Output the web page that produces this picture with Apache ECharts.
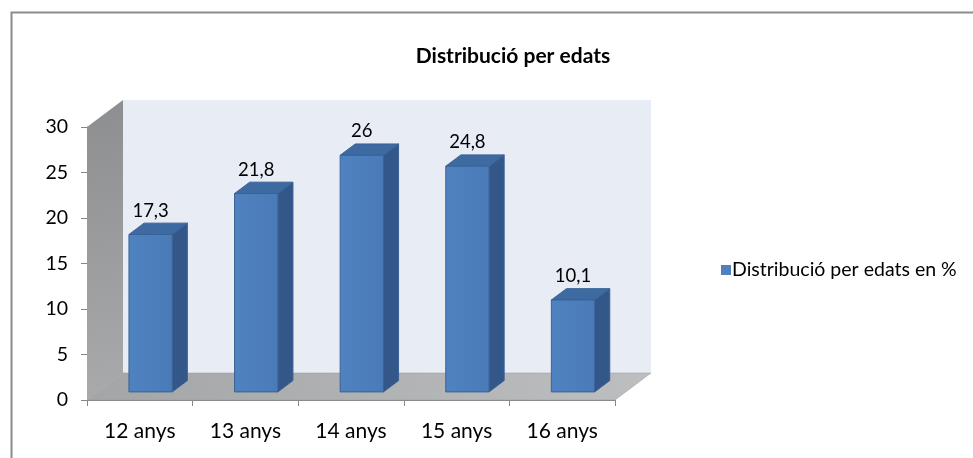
<!DOCTYPE html>
<html>
<head>
<meta charset="utf-8">
<script src="https://cdn.jsdelivr.net/npm/echarts@6/dist/echarts.min.js"></script>
<style>html,body{margin:0;padding:0;background:#fff;}#c{width:973px;height:458px;}</style>
</head>
<body>
<div id="c"></div>
<script>
// ---- data ----
const categories = ['12 anys', '13 anys', '14 anys', '15 anys', '16 anys'];
const values = [17.3, 21.8, 26, 24.8, 10.1];
const seriesName = 'Distribució per edats en %';
const titleText = 'Distribució per edats';
const yMin = 0, yMax = 30, yInterval = 5;

// ---- style constants ----
const FONT = 'Lato, "Open Sans", sans-serif';
const DEPTH_X = 36, DEPTH_Y = -27;   // 3D wall depth
const BAR_FRONT = 0.3, BAR_DEPTH = 0.42, BAR_W = 0.41;

const chart = echarts.init(document.getElementById('c'), null, {renderer: 'canvas'});

function renderWalls(params, api) {
  const band = api.size([1, 0])[0];
  const p0 = api.coord([0, yMin]);
  const pN = api.coord([categories.length - 1, yMin]);
  const pT = api.coord([0, yMax]);
  const L = p0[0] - band / 2, R = pN[0] + band / 2, B = p0[1], T = pT[1];
  const dx = DEPTH_X, dy = DEPTH_Y;
  return {
    type: 'group',
    children: [
      { type: 'rect', shape: {x: L + dx, y: T + dy, width: R - L, height: B - T},
        style: {fill: '#E8ECF5', stroke: null} },
      { type: 'polygon', shape: {points: [[L, T], [L + dx, T + dy], [L + dx, B + dy], [L, B]]},
        style: {fill: new echarts.graphic.LinearGradient(0, 0, 1, 1, [
          {offset: 0, color: '#8D8E90'}, {offset: 1, color: '#A9AAAC'}]), stroke: null} },
      { type: 'polygon', shape: {points: [[L, B], [R, B], [R + dx, B + dy], [L + dx, B + dy]]},
        style: {fill: new echarts.graphic.LinearGradient(0, 0, 1, 0, [
          {offset: 0, color: '#A4A5A7'}, {offset: 1, color: '#BDBEC0'}]), stroke: '#9A9B9D', lineWidth: 0.5} }
    ]
  };
}

function renderBar(params, api) {
  const i = api.value(0), v = api.value(1);
  const base = api.coord([i, 0]);
  const top = api.coord([i, v]);
  const band = api.size([1, 0])[0];
  const w = band * BAR_W;
  const fx = DEPTH_X * BAR_FRONT, fy = DEPTH_Y * BAR_FRONT;
  const dx = DEPTH_X * BAR_DEPTH, dy = DEPTH_Y * BAR_DEPTH;
  const x0 = base[0] - w / 2 + fx, x1 = x0 + w;
  const yb = base[1] + fy, yt = top[1] + fy;
  const stroke = '#3A6296';
  return {
    type: 'group',
    children: [
      { type: 'polygon', shape: {points: [[x1, yt], [x1 + dx, yt + dy], [x1 + dx, yb + dy], [x1, yb]]},
        style: {fill: '#34578A', stroke: stroke, lineWidth: 1} },
      { type: 'polygon', shape: {points: [[x0, yt], [x1, yt], [x1 + dx, yt + dy], [x0 + dx, yt + dy]]},
        style: {fill: '#3E6AA2', stroke: stroke, lineWidth: 1} },
      { type: 'rect', shape: {x: x0, y: yt, width: w, height: yb - yt},
        style: {fill: new echarts.graphic.LinearGradient(0, 0, 1, 0, [
          {offset: 0, color: '#4F82C0'}, {offset: 1, color: '#4A7BB8'}]), stroke: stroke, lineWidth: 1} },
      { type: 'text', x: x0 + w / 2, y: yt + dy - 3,
        style: {text: String(v).replace('.', ','), font: '18.5px ' + FONT, fill: '#000',
          align: 'center', verticalAlign: 'bottom'} }
    ]
  };
}

chart.setOption({
  animation: false,
  backgroundColor: '#fff',
  title: {
    text: titleText, left: 508, top: 41, textAlign: 'center',
    textStyle: {fontFamily: FONT, fontWeight: 'bold', fontSize: 21, color: '#000'}
  },
  legend: {
    data: [seriesName], left: 716, top: 255, icon: 'rect', itemWidth: 10, itemHeight: 10, itemGap: 4,
    textStyle: {fontFamily: FONT, fontSize: 19.5, color: '#000', padding: [0, 0, 0, -4]}
  },
  graphic: [{
    type: 'rect', left: 9, top: 10, shape: {x: 0, y: 0, width: 990, height: 480},
    style: {fill: null, stroke: '#8C8C8C', lineWidth: 2}, z: 100
  }],
  grid: {left: 87, top: 127, width: 528, height: 273},
  xAxis: {
    type: 'category', data: categories,
    axisLine: {show: true, lineStyle: {color: '#868686', width: 1}},
    axisTick: {show: true, length: 6, lineStyle: {color: '#868686'}},
    axisLabel: {fontFamily: FONT, fontSize: 21, color: '#000', margin: 21},
    splitLine: {show: false}
  },
  yAxis: {
    type: 'value', min: yMin, max: yMax, interval: yInterval,
    axisLine: {show: true, lineStyle: {color: '#868686', width: 1}},
    axisTick: {show: true, length: 6, lineStyle: {color: '#868686'}},
    axisLabel: {fontFamily: FONT, fontSize: 19.5, color: '#000', margin: 19},
    splitLine: {show: false}
  },
  series: [
    { type: 'custom', name: 'walls', renderItem: renderWalls, data: [[0, 0]], silent: true, z: 1,
      clip: false, legendHoverLink: false, tooltip: {show: false} },
    { type: 'custom', name: seriesName, renderItem: renderBar, z: 2, clip: false,
      itemStyle: {color: '#4F81BD'},
      encode: {x: 0, y: 1},
      data: values.map((v, i) => [i, v]) }
  ]
});
</script>
</body>
</html>
